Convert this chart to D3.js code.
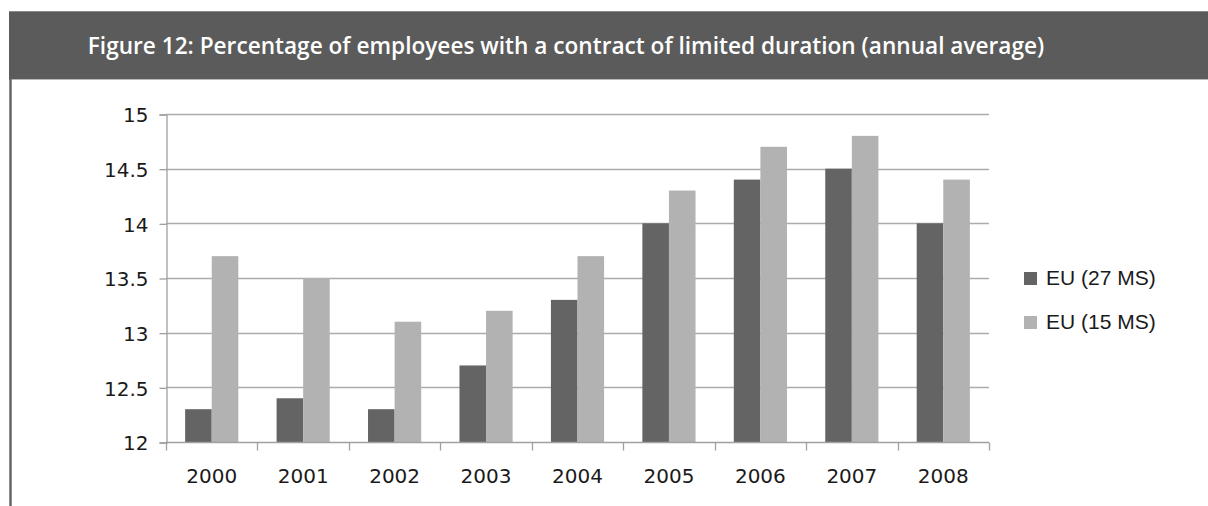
<!DOCTYPE html>
<meta charset="utf-8">
<style>
  body { margin: 0; background: #fff; }
  svg { display: block; }
  .axis text { font-family: "DejaVu Sans", sans-serif; font-size: 20px; fill: #1a1a1a; }
  .legend text { font-family: "Liberation Sans", Arial, sans-serif; font-size: 21px; fill: #1a1a1a; }
</style>
<body>
<script src="https://d3js.org/d3.v7.min.js"></script>
<script>

var title = "Figure 12: Percentage of employees with a contract of limited duration (annual average)";
var years = ["2000", "2001", "2002", "2003", "2004", "2005", "2006", "2007", "2008"];
var eu27 = [12.3, 12.4, 12.3, 12.7, 13.3, 14.0, 14.4, 14.5, 14.0];
var eu15 = [13.7, 13.5, 13.1, 13.2, 13.7, 14.3, 14.7, 14.8, 14.4];
var seriesNames = ["EU (27 MS)", "EU (15 MS)"];
var yTicks = [12, 12.5, 13, 13.5, 14, 14.5, 15];

var colors = ["#646464", "#b2b2b2"];

var W = 1208, H = 506;
var svg = d3.select("body").append("svg")
    .attr("width", W)
    .attr("height", H);

// header band
svg.append("rect")
    .attr("x", 9).attr("y", 11)
    .attr("width", W - 9).attr("height", 68)
    .attr("fill", "#5b5b5b");
svg.append("line")
    .attr("x1", 9).attr("x2", W).attr("y1", 11.5).attr("y2", 11.5)
    .attr("stroke", "#8a8a8a");
svg.append("line")
    .attr("x1", 9).attr("x2", W).attr("y1", 79.5).attr("y2", 79.5)
    .attr("stroke", "#b8b8b8");
// left border
svg.append("line")
    .attr("x1", 10.5).attr("x2", 10.5).attr("y1", 79).attr("y2", H)
    .attr("stroke", "#666").attr("stroke-width", 2.5);

var t = svg.append("text")
    .attr("x", 566).attr("y", 54)
    .attr("text-anchor", "middle")
    .attr("fill", "#fff")
    .style("font-family", "'Open Sans', sans-serif")
    .style("font-weight", "600")
    .style("font-size", "20px")
    .text(title);
// fit title to the width it has in the reference
var tw = t.node().getComputedTextLength();
t.style("font-size", (20 * 957 / tw) + "px");

// plot
var pLeft = 166, pRight = 989, pTop = 114, pBottom = 442;

var x = d3.scaleBand()
    .domain(years)
    .range([pLeft, pRight]);

var xs = d3.scaleBand()
    .domain([0, 1])
    .range([0, x.bandwidth()])
    .paddingOuter(0.72);

var y = d3.scaleLinear()
    .domain([12, 15])
    .range([pBottom, pTop]);

// gridlines
svg.append("g")
  .selectAll("line")
  .data(yTicks.slice(1))
  .join("line")
    .attr("x1", pLeft).attr("x2", pRight)
    .attr("y1", d => Math.round(y(d)) + 0.5)
    .attr("y2", d => Math.round(y(d)) + 0.5)
    .attr("stroke", "#ababab")
    .attr("stroke-width", 1.3);

// y axis
var gY = svg.append("g")
    .attr("class", "axis")
    .attr("transform", "translate(" + (pLeft + 0.5) + ",0.5)")
    .call(d3.axisLeft(y).tickValues(yTicks).tickFormat(d3.format("")).tickSize(7).tickPadding(11));
gY.select(".domain").attr("stroke", "#a0a0a0").attr("stroke-width", 1.3);
gY.selectAll(".tick line").attr("stroke", "#a0a0a0").attr("stroke-width", 1.3);
gY.selectAll("text").attr("dy", "0.36em");
gY.attr("font-size", null).attr("font-family", null);

// bars
var groups = svg.append("g")
  .selectAll("g")
  .data(years)
  .join("g")
    .attr("transform", d => "translate(" + x(d) + ",0)");

groups.selectAll("rect")
  .data((d, i) => [eu27[i], eu15[i]])
  .join("rect")
    .attr("x", (d, j) => xs(j))
    .attr("width", xs.bandwidth())
    .attr("y", d => y(d))
    .attr("height", d => y(12) - y(d))
    .attr("fill", (d, j) => colors[j]);

// x axis
var gX = svg.append("g")
    .attr("class", "axis")
    .attr("transform", "translate(0," + (pBottom + 0.5) + ")");
gX.append("line")
    .attr("x1", pLeft).attr("x2", pRight)
    .attr("stroke", "#a0a0a0").attr("stroke-width", 1.3);
gX.selectAll(".tk")
  .data(years.map(d => x(d)).concat([pRight]))
  .join("line")
    .attr("class", "tk")
    .attr("x1", d => Math.round(d) + 0.5).attr("x2", d => Math.round(d) + 0.5)
    .attr("y1", 0).attr("y2", 8)
    .attr("stroke", "#a0a0a0").attr("stroke-width", 1.3);
gX.selectAll("text")
  .data(years)
  .join("text")
    .attr("x", d => x(d) + x.bandwidth() / 2)
    .attr("y", 40)
    .attr("text-anchor", "middle")
    .text(d => d);

// legend
var legend = svg.append("g")
    .attr("class", "legend")
  .selectAll("g")
  .data(seriesNames)
  .join("g")
    .attr("transform", (d, i) => "translate(1024," + (285 + i * 44) + ")");
legend.append("rect")
    .attr("x", 0).attr("y", -13)
    .attr("width", 13).attr("height", 13)
    .attr("fill", (d, i) => colors[i]);
legend.append("text")
    .attr("x", 22).attr("y", 0)
    .text(d => d);

</script>
</body>
